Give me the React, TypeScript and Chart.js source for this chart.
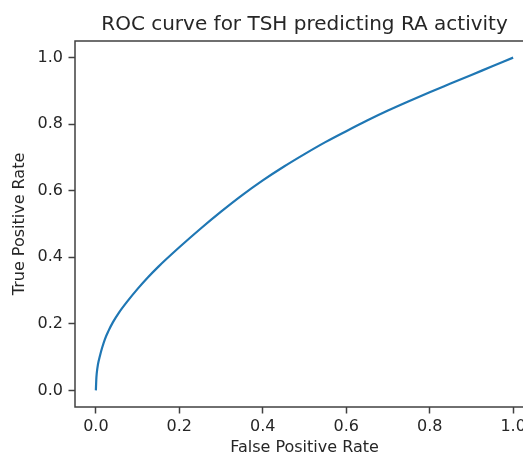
import React, { useEffect, useRef } from "react";
import { Chart, registerables } from "chart.js";

Chart.register(...registerables);

const chartTitle = "ROC curve for TSH predicting RA activity";
const fprValues = [0, 0.001, 0.002, 0.005, 0.01, 0.015, 0.022, 0.03, 0.041, 0.055, 0.074, 0.1, 0.125, 0.15, 0.2, 0.25, 0.3, 0.35, 0.4, 0.45, 0.5, 0.55, 0.6, 0.65, 0.7, 0.75, 0.8, 0.85, 0.9, 0.95, 1.0];
const tprValues = [0, 0.032, 0.05, 0.078, 0.105, 0.128, 0.155, 0.178, 0.205, 0.233, 0.265, 0.305, 0.34, 0.372, 0.43, 0.485, 0.537, 0.586, 0.631, 0.672, 0.71, 0.746, 0.779, 0.811, 0.841, 0.869, 0.896, 0.922, 0.948, 0.974, 1.0];
const tickValues = [0, 0.2, 0.4, 0.6, 0.8, 1.0];

const FONT = "'DejaVu Sans', sans-serif";
const AXIS_COLOR = "#404040";
const TEXT_COLOR = "#262626";

const framePlugin = {
  id: "frame",
  afterDraw(chart: any) {
    const { ctx, chartArea } = chart;
    ctx.save();
    ctx.strokeStyle = AXIS_COLOR;
    ctx.lineWidth = 1.5;
    ctx.strokeRect(chartArea.left, chartArea.top, chartArea.right - chartArea.left, chartArea.bottom - chartArea.top);
    ctx.fillStyle = TEXT_COLOR;
    ctx.font = `20px ${FONT}`;
    ctx.textAlign = "center";
    ctx.textBaseline = "alphabetic";
    ctx.fillText(chartTitle, (chartArea.left + chartArea.right) / 2, 29.5);
    ctx.restore();
  },
};

export default function App() {
  const ref = useRef<HTMLCanvasElement>(null);
  useEffect(() => {
    if (!ref.current) return;
    const chart = new Chart(ref.current, {
      type: "line",
      data: {
        datasets: [
          {
            data: fprValues.map((x, i) => ({ x, y: tprValues[i] })),
            borderColor: "#1f77b4",
            borderWidth: 2.2,
            pointRadius: 0,
            fill: false,
            cubicInterpolationMode: "monotone",
          },
        ],
      },
      options: {
        animation: false,
        responsive: false,
        maintainAspectRatio: false,
        layout: { padding: { top: 41, left: 0, right: 0, bottom: 0 } },
        plugins: {
          legend: { display: false },
          tooltip: { enabled: false },
          title: { display: false },
        },
        scales: {
          x: {
            type: "linear",
            min: -0.05,
            max: 1.05,
            afterBuildTicks: (s: any) => {
              s.ticks = tickValues.map((v) => ({ value: v }));
            },
            afterFit: (s: any) => {
              s.height = 50;
              s.paddingLeft = 0;
              s.paddingRight = 0;
            },
            ticks: {
              color: TEXT_COLOR,
              font: { family: FONT, size: 16 },
              padding: 4,
              maxRotation: 0,
              callback: (v: any) => Number(v).toFixed(1),
            },
            grid: { drawOnChartArea: false, tickLength: 6.5, tickColor: AXIS_COLOR, tickWidth: 1.5 },
            border: { display: false },
            title: {
              display: true,
              text: "False Positive Rate",
              color: TEXT_COLOR,
              font: { family: FONT, size: 16 },
              padding: { top: 0, bottom: 0 },
            },
          },
          y: {
            type: "linear",
            min: -0.05,
            max: 1.05,
            afterBuildTicks: (s: any) => {
              s.ticks = tickValues.map((v) => ({ value: v }));
            },
            afterFit: (s: any) => {
              s.width = 75;
            },
            ticks: {
              color: TEXT_COLOR,
              font: { family: FONT, size: 16 },
              padding: 5.5,
              callback: (v: any) => Number(v).toFixed(1),
            },
            grid: { drawOnChartArea: false, tickLength: 6.5, tickColor: AXIS_COLOR, tickWidth: 1.5 },
            border: { display: false },
            title: {
              display: true,
              text: "True Positive Rate",
              color: TEXT_COLOR,
              font: { family: FONT, size: 16 },
              padding: { top: 10.5, bottom: 0 },
            },
          },
        },
      },
      plugins: [framePlugin],
    });
    return () => chart.destroy();
  }, []);
  return (
    <div style={{ position: "absolute", left: 0, top: 0, width: 523, height: 457, overflow: "hidden", background: "#fff" }}>
      <canvas ref={ref} width={534} height={457} style={{ display: "block", width: 534, height: 457 }} />
    </div>
  );
}
